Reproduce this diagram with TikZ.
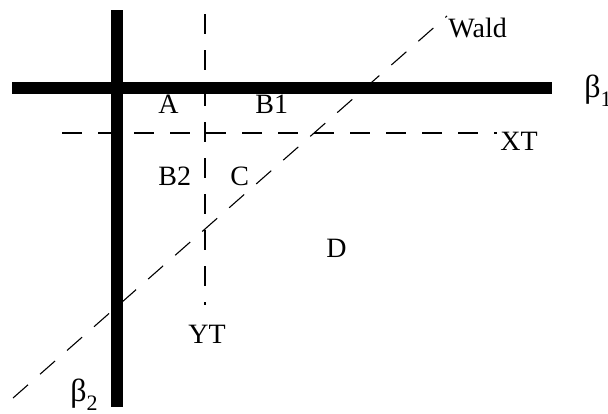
\documentclass[tikz,border=0pt]{standalone}
\usepackage{fontspec}
\setmainfont{Liberation Serif}
\usepackage{tikz}
\usetikzlibrary{positioning}
\newcommand{\lowsub}[1]{\raisebox{-4.5pt}{\fontsize{11}{12}\selectfont #1}}
\tikzset{
  axisline/.style={line width=6pt,draw=black},
  testline/.style={line width=0.55pt,draw=black,dash pattern=on 10pt off 8pt},
  lbl/.style={inner sep=0pt,anchor=base west,font=\fontsize{14}{16}\selectfont}
}

\begin{document}
\begin{tikzpicture}[x=0.5pt,y=-0.5pt]
\useasboundingbox (0,0) rectangle (608,413);
% ends of the lines
\coordinate (b1l) at (12,88);  \coordinate (b1r) at (552,88);
\coordinate (b2t) at (117,10); \coordinate (b2b) at (117,407);
\coordinate (xtl) at (62,133); \coordinate (xtr) at (497,133);
\coordinate (ytt) at (205,14); \coordinate (ytb) at (205,305);
\coordinate (wlo) at (13,398); \coordinate (whi) at (447,16);
% test lines
\draw[testline] (xtl) -- (xtr);
\draw[testline] (ytt) -- (ytb);
\draw[testline] (wlo) -- (whi);
% the two axes
\draw[axisline] (b1l) -- (b1r);
\draw[axisline] (b2t) -- (b2b);
% labels
\node[lbl] (wald) at (448,37) {Wald};
\node[lbl] (beta1) at (584,97) {\fontsize{16}{18}\selectfont β\lowsub{1}};
\node[lbl] (xt) at (500,150) {XT};
\node[lbl] (yt) at (188,343) {YT};
\node[lbl] (beta2) at (70,401) {\fontsize{16}{18}\selectfont β\lowsub{2}};
\node[lbl] (rA) at (158,113) {A};
\node[lbl] (rB1) at (255,113) {B1};
\node[lbl] (rB2) at (158,185) {B2};
\node[lbl] (rC) at (230,185) {C};
\node[lbl] (rD) at (326,257) {D};
\end{tikzpicture}
\end{document}
